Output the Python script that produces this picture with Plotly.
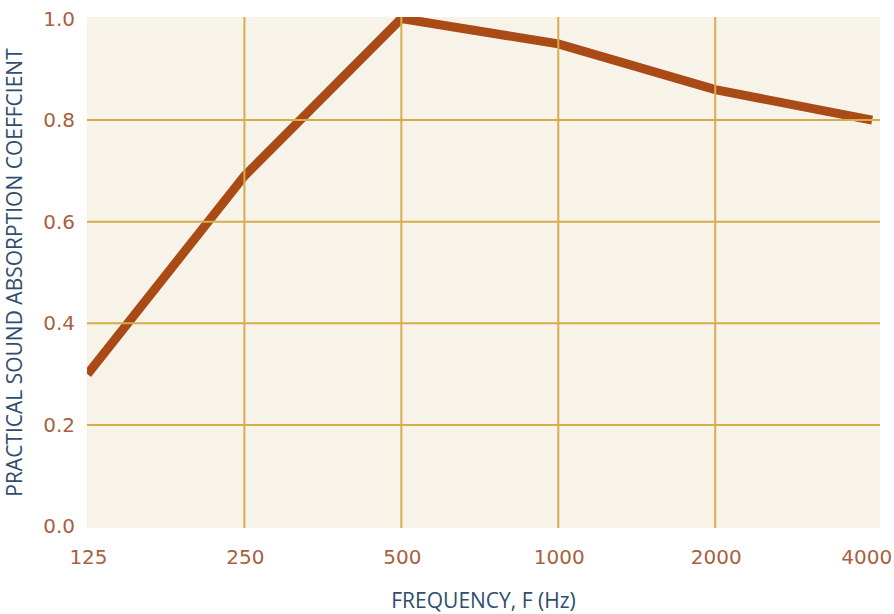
import plotly.graph_objects as go

frequencies = ["125", "250", "500", "1000", "2000", "4000"]
absorption = [0.30, 0.69, 1.00, 0.95, 0.86, 0.80]
y_ticks = [0.0, 0.2, 0.4, 0.6, 0.8, 1.0]
y_grid = [0.2, 0.4, 0.6, 0.8]
x_grid = ["250", "500", "1000", "2000"]

x_pos = list(range(len(frequencies)))
# keep the last label inside the page edge (pad it so it centres slightly left)
tick_text = frequencies[:-1] + [frequencies[-1] + "\u00a0\u00a0"]

fig = go.Figure()
fig.add_trace(go.Scatter(
    x=x_pos, y=absorption, mode="lines",
    line=dict(color="#A94A17", width=9),
    hoverinfo="skip", showlegend=False,
))

grid_color = "#D6AD4C"
for g in y_grid:
    fig.add_shape(type="line", xref="paper", yref="y", x0=0, x1=1, y0=g, y1=g,
                  line=dict(color=grid_color, width=2), layer="above")
for g in x_grid:
    xi = frequencies.index(g)
    fig.add_shape(type="line", xref="x", yref="paper", x0=xi, x1=xi, y0=0, y1=1,
                  line=dict(color=grid_color, width=2), layer="above")

tick_font = dict(family="DejaVu Sans, sans-serif", size=20, color="#A8603F")
title_font = dict(family="Open Sans, sans-serif", size=21, color="#2F4D6E")

fig.update_layout(
    width=894, height=614,
    margin=dict(l=87, r=14, t=17, b=86, autoexpand=False),
    paper_bgcolor="white",
    plot_bgcolor="#F8F3E9",
    xaxis=dict(
        range=[-0.003, 5.05], automargin=False,
        tickmode="array", tickvals=x_pos, ticktext=tick_text,
        showgrid=False, zeroline=False, showline=False,
        ticks="", tickfont=tick_font, ticklabelstandoff=15,
        ticklabeloverflow="allow", ticklabelshift=1,
        title=dict(text="FREQUENCY, F (Hz)", font=title_font, standoff=29),
    ),
    yaxis=dict(
        range=[-0.003, 1.003], automargin=False,
        tickmode="array", tickvals=y_ticks, tickformat=".1f",
        showgrid=False, zeroline=False, showline=False,
        ticks="", tickfont=tick_font, ticklabelstandoff=11,
        title=dict(text="PRACTICAL SOUND ABSORPTION COEFFCIENT", font=title_font, standoff=16),
    ),
)

fig.write_html("out.html", config={"displayModeBar": False},
               post_script="document.body.style.margin='0px';")
